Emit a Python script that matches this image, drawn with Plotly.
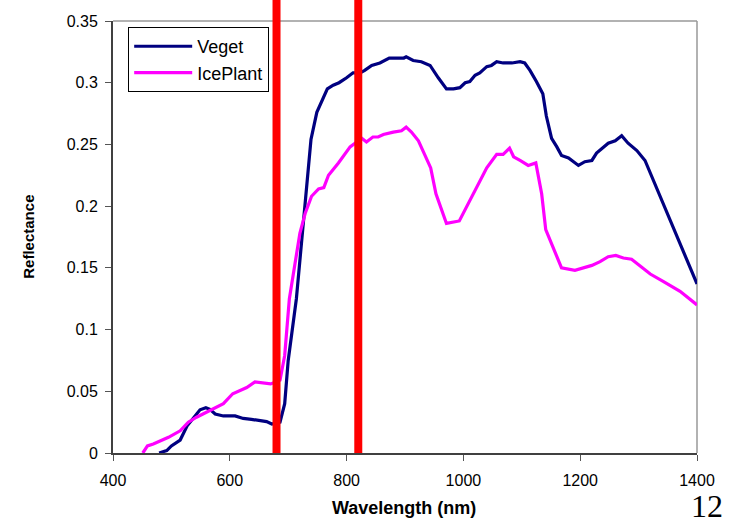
import plotly.graph_objects as go

# ---- data ----
veget_wl = [479, 492, 500, 515, 527, 538, 549, 559, 566, 575, 589, 609, 623, 637, 652,
            663, 672, 686, 694, 700, 714, 727, 739, 749, 767, 777, 787, 800, 811, 823,
            831, 843, 857, 873, 886, 898, 902, 914, 928, 943, 957, 971, 983, 994, 1003,
            1011, 1020, 1028, 1040, 1048, 1057, 1068, 1083, 1097, 1105, 1114, 1125, 1136,
            1142, 1151, 1160, 1168, 1180, 1197, 1208, 1220, 1228, 1237, 1248, 1260, 1271,
            1282, 1297, 1311, 1400]
veget_refl = [0.0, 0.002, 0.0057, 0.0105, 0.022, 0.029, 0.035, 0.0367, 0.0354, 0.0316,
              0.030, 0.030, 0.028, 0.0273, 0.026, 0.0254, 0.0235, 0.025, 0.040, 0.075,
              0.125, 0.19, 0.254, 0.276, 0.295, 0.298, 0.300, 0.304, 0.308, 0.308,
              0.310, 0.314, 0.316, 0.320, 0.320, 0.320, 0.321, 0.318, 0.317, 0.314,
              0.304, 0.295, 0.295, 0.296, 0.300, 0.301, 0.306, 0.308, 0.313, 0.314,
              0.317, 0.316, 0.316, 0.317, 0.316, 0.310, 0.301, 0.291, 0.273, 0.255,
              0.248, 0.241, 0.239, 0.233, 0.236, 0.237, 0.243, 0.247, 0.251, 0.253,
              0.257, 0.251, 0.245, 0.237, 0.137]

ice_wl = [451, 459, 469, 483, 495, 515, 529, 543, 560, 575, 589, 605, 616, 629, 643,
          657, 670, 686, 694, 702, 720, 729, 740, 752, 761, 769, 786, 806, 817, 826,
          834, 845, 854, 863, 880, 894, 902, 911, 923, 931, 944, 953, 963, 971, 993,
          1006, 1017, 1028, 1040, 1057, 1068, 1079, 1086, 1097, 1111, 1124, 1134, 1141,
          1154, 1168, 1191, 1208, 1220, 1234, 1248, 1261, 1274, 1288, 1302, 1320, 1342,
          1371, 1400]
ice_refl = [0.0, 0.0057, 0.0073, 0.010, 0.0127, 0.018, 0.025, 0.029, 0.033, 0.036,
            0.040, 0.048, 0.050, 0.053, 0.0575, 0.057, 0.056, 0.059, 0.079, 0.125,
            0.178, 0.194, 0.208, 0.214, 0.215, 0.225, 0.235, 0.248, 0.252, 0.255,
            0.252, 0.256, 0.256, 0.258, 0.260, 0.261, 0.264, 0.260, 0.253, 0.244,
            0.231, 0.210, 0.197, 0.186, 0.188, 0.200, 0.210, 0.220, 0.231, 0.242,
            0.242, 0.247, 0.240, 0.237, 0.233, 0.235, 0.210, 0.181, 0.166, 0.150,
            0.148, 0.150, 0.152, 0.155, 0.159, 0.160, 0.158, 0.157, 0.152, 0.145,
            0.139, 0.131, 0.120]

marker_wl = [680, 820]

x_ticks = [400, 600, 800, 1000, 1200, 1400]
y_ticks = [0, 0.05, 0.1, 0.15, 0.2, 0.25, 0.3, 0.35]
y_tick_text = ["0", "0.05", "0.1", "0.15", "0.2", "0.25", "0.3", "0.35"]

assert len(veget_wl) == len(veget_refl)
assert len(ice_wl) == len(ice_refl)

FONT = "Liberation Sans, Arial, sans-serif"

fig = go.Figure()
fig.add_trace(go.Scatter(x=veget_wl, y=veget_refl, mode="lines", name="Veget",
                         line=dict(color="#000080", width=3.2)))
fig.add_trace(go.Scatter(x=ice_wl, y=ice_refl, mode="lines", name="IcePlant",
                         line=dict(color="#FF00FF", width=3.2)))

shapes = []
# plot-area border (top and right, grey)
shapes.append(dict(type="line", xref="paper", yref="paper", x0=0, x1=1, y0=1, y1=1,
                   line=dict(color="#999999", width=1.5), layer="below"))
shapes.append(dict(type="line", xref="paper", yref="paper", x0=1, x1=1, y0=0, y1=1,
                   line=dict(color="#999999", width=1.5), layer="below"))
for w in marker_wl:
    shapes.append(dict(type="line", xref="x", yref="paper", x0=w, x1=w, y0=0, y1=1.05,
                       line=dict(color="#FF0000", width=8), layer="above"))

fig.update_layout(
    width=736, height=525,
    margin=dict(l=113, r=39, t=21, b=72, pad=0),
    paper_bgcolor="white", plot_bgcolor="white",
    font=dict(family=FONT, size=16, color="black"),
    showlegend=True,
    legend=dict(x=0.026, y=0.986, xanchor="left", yanchor="top",
                bgcolor="white", bordercolor="black", borderwidth=1,
                font=dict(family=FONT, size=18, color="black"),
                itemwidth=58, tracegroupgap=0),
    xaxis=dict(range=[400, 1400], tickmode="array", tickvals=x_ticks,
               showgrid=False, zeroline=False, showline=True,
               linecolor="#404040", linewidth=2,
               ticks="outside", ticklen=6, tickwidth=1, tickcolor="#555555",
               ticklabelstandoff=6,
               tickfont=dict(family=FONT, size=16, color="black")),
    yaxis=dict(range=[0, 0.35], tickmode="array", tickvals=y_ticks, ticktext=y_tick_text,
               showgrid=False, zeroline=False, showline=True,
               linecolor="#404040", linewidth=2,
               ticks="outside", ticklen=6, tickwidth=1, tickcolor="#555555",
               ticklabelstandoff=4,
               tickfont=dict(family=FONT, size=16, color="black")),
    shapes=shapes,
    annotations=[
        dict(text="<b>Reflectance</b>", xref="paper", yref="paper",
             x=-0.146, y=0.5, xanchor="center", yanchor="middle", textangle=-90,
             showarrow=False, font=dict(family=FONT, size=15, color="black")),
        dict(text="<b>Wavelength (nm)</b>", xref="paper", yref="paper",
             x=(404 - 113) / 584, y=(453.5 - 509) / 432.5, xanchor="center",
             yanchor="middle", showarrow=False,
             font=dict(family=FONT, size=18, color="black")),
        dict(text="12", xref="paper", yref="paper",
             x=(707 - 113) / 584, y=(453.5 - 507) / 432.5, xanchor="center",
             yanchor="middle", showarrow=False,
             font=dict(family="Liberation Serif, Times New Roman, serif", size=32,
                       color="black")),
    ],
)

fig.write_html("out.html")
